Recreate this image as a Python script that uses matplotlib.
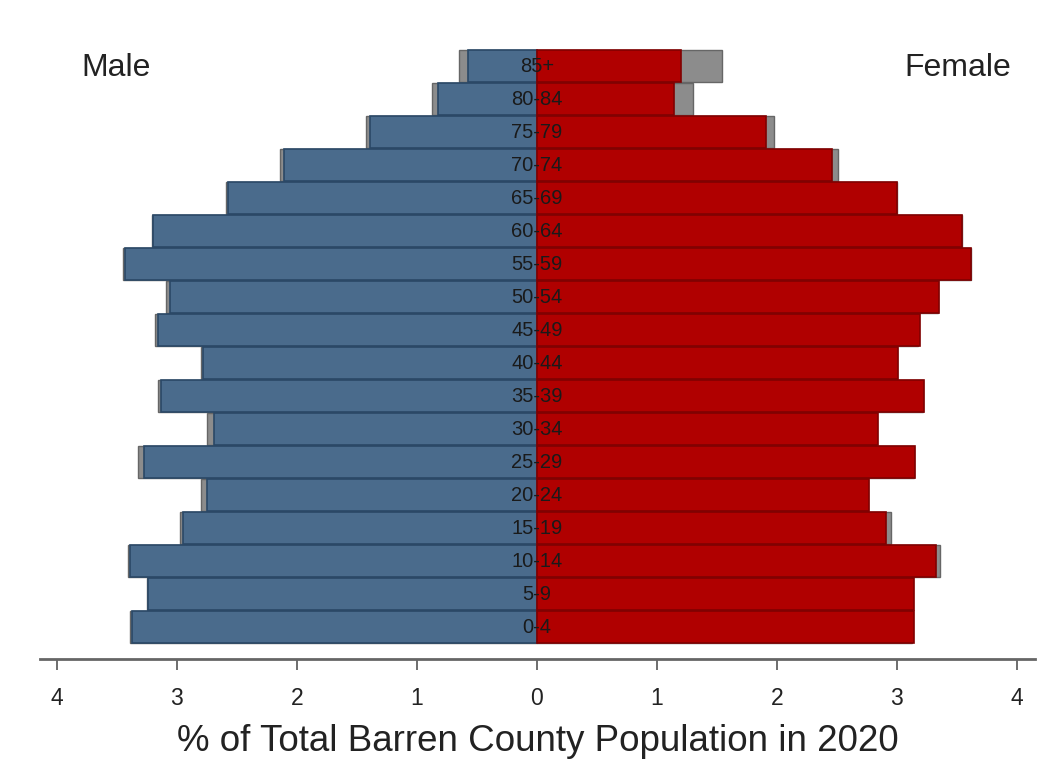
import numpy as np
import matplotlib
matplotlib.use("Agg")
import matplotlib.pyplot as plt

plt.rcParams['font.family'] = ['Liberation Sans', 'DejaVu Sans']

# age groups, bottom to top
ages = ["0-4", "5-9", "10-14", "15-19", "20-24", "25-29", "30-34", "35-39", "40-44",
        "45-49", "50-54", "55-59", "60-64", "65-69", "70-74", "75-79", "80-84", "85+"]

# % of total population
male = [3.37, 3.24, 3.39, 2.95, 2.75, 3.27, 2.69, 3.13, 2.78,
        3.16, 3.06, 3.43, 3.20, 2.57, 2.11, 1.39, 0.82, 0.575]
female = [3.14, 3.14, 3.325, 2.91, 2.77, 3.15, 2.84, 3.23, 3.01,
          3.19, 3.35, 3.62, 3.54, 3.00, 2.46, 1.91, 1.14, 1.20]
# gray comparison bars behind
male_ref = [3.39, 3.25, 3.41, 2.97, 2.80, 3.32, 2.75, 3.16, 2.80,
            3.18, 3.09, 3.45, 3.21, 2.59, 2.14, 1.42, 0.87, 0.65]
female_ref = [3.13, 3.13, 3.36, 2.95, 2.76, 3.14, 2.83, 3.22, 3.00,
              3.18, 3.34, 3.62, 3.545, 3.00, 2.51, 1.975, 1.30, 1.54]

y = np.arange(len(ages))
h = 0.96

fig = plt.figure(figsize=(10.39, 7.62), dpi=100)
ax = fig.add_axes([0.0385, 0.135, 0.9575, 0.813])

ax.barh(y, -np.array(male_ref), height=h, color="#8c8c8c", edgecolor="#666666", linewidth=1)
ax.barh(y, female_ref, height=h, color="#8c8c8c", edgecolor="#666666", linewidth=1)
ax.barh(y, -np.array(male), height=h, color="#4a6b8c", edgecolor="#2a4866", linewidth=1.2)
ax.barh(y, female, height=h, color="#b00000", edgecolor="#800000", linewidth=1.2)

for yi, lab in zip(y, ages):
    ax.text(0, yi, lab, ha="center", va="center", fontsize=14.5, color="#1a1a1a")

ax.text(-3.51, 16.95, "Male", ha="center", va="center", fontsize=23, color="#222222")
ax.text(3.51, 16.95, "Female", ha="center", va="center", fontsize=23, color="#222222")

ax.set_xlim(-4.14, 4.15)
ax.set_ylim(-0.97, 17.8)
ticks = np.arange(-4, 5)
ax.set_xticks(ticks)
ax.set_xticklabels([str(abs(t)) for t in ticks], fontsize=16.5, color="#222222")
ax.tick_params(axis="x", length=8, width=1.2, color="#555555", pad=12)
ax.set_yticks([])
for s in ["top", "left", "right"]:
    ax.spines[s].set_visible(False)
ax.spines["bottom"].set_color("#666666")
ax.spines["bottom"].set_linewidth(2)
ax.set_xlabel("% of Total Barren County Population in 2020", fontsize=26.5, color="#222222", labelpad=10)

fig.savefig("out.png", dpi=100)
